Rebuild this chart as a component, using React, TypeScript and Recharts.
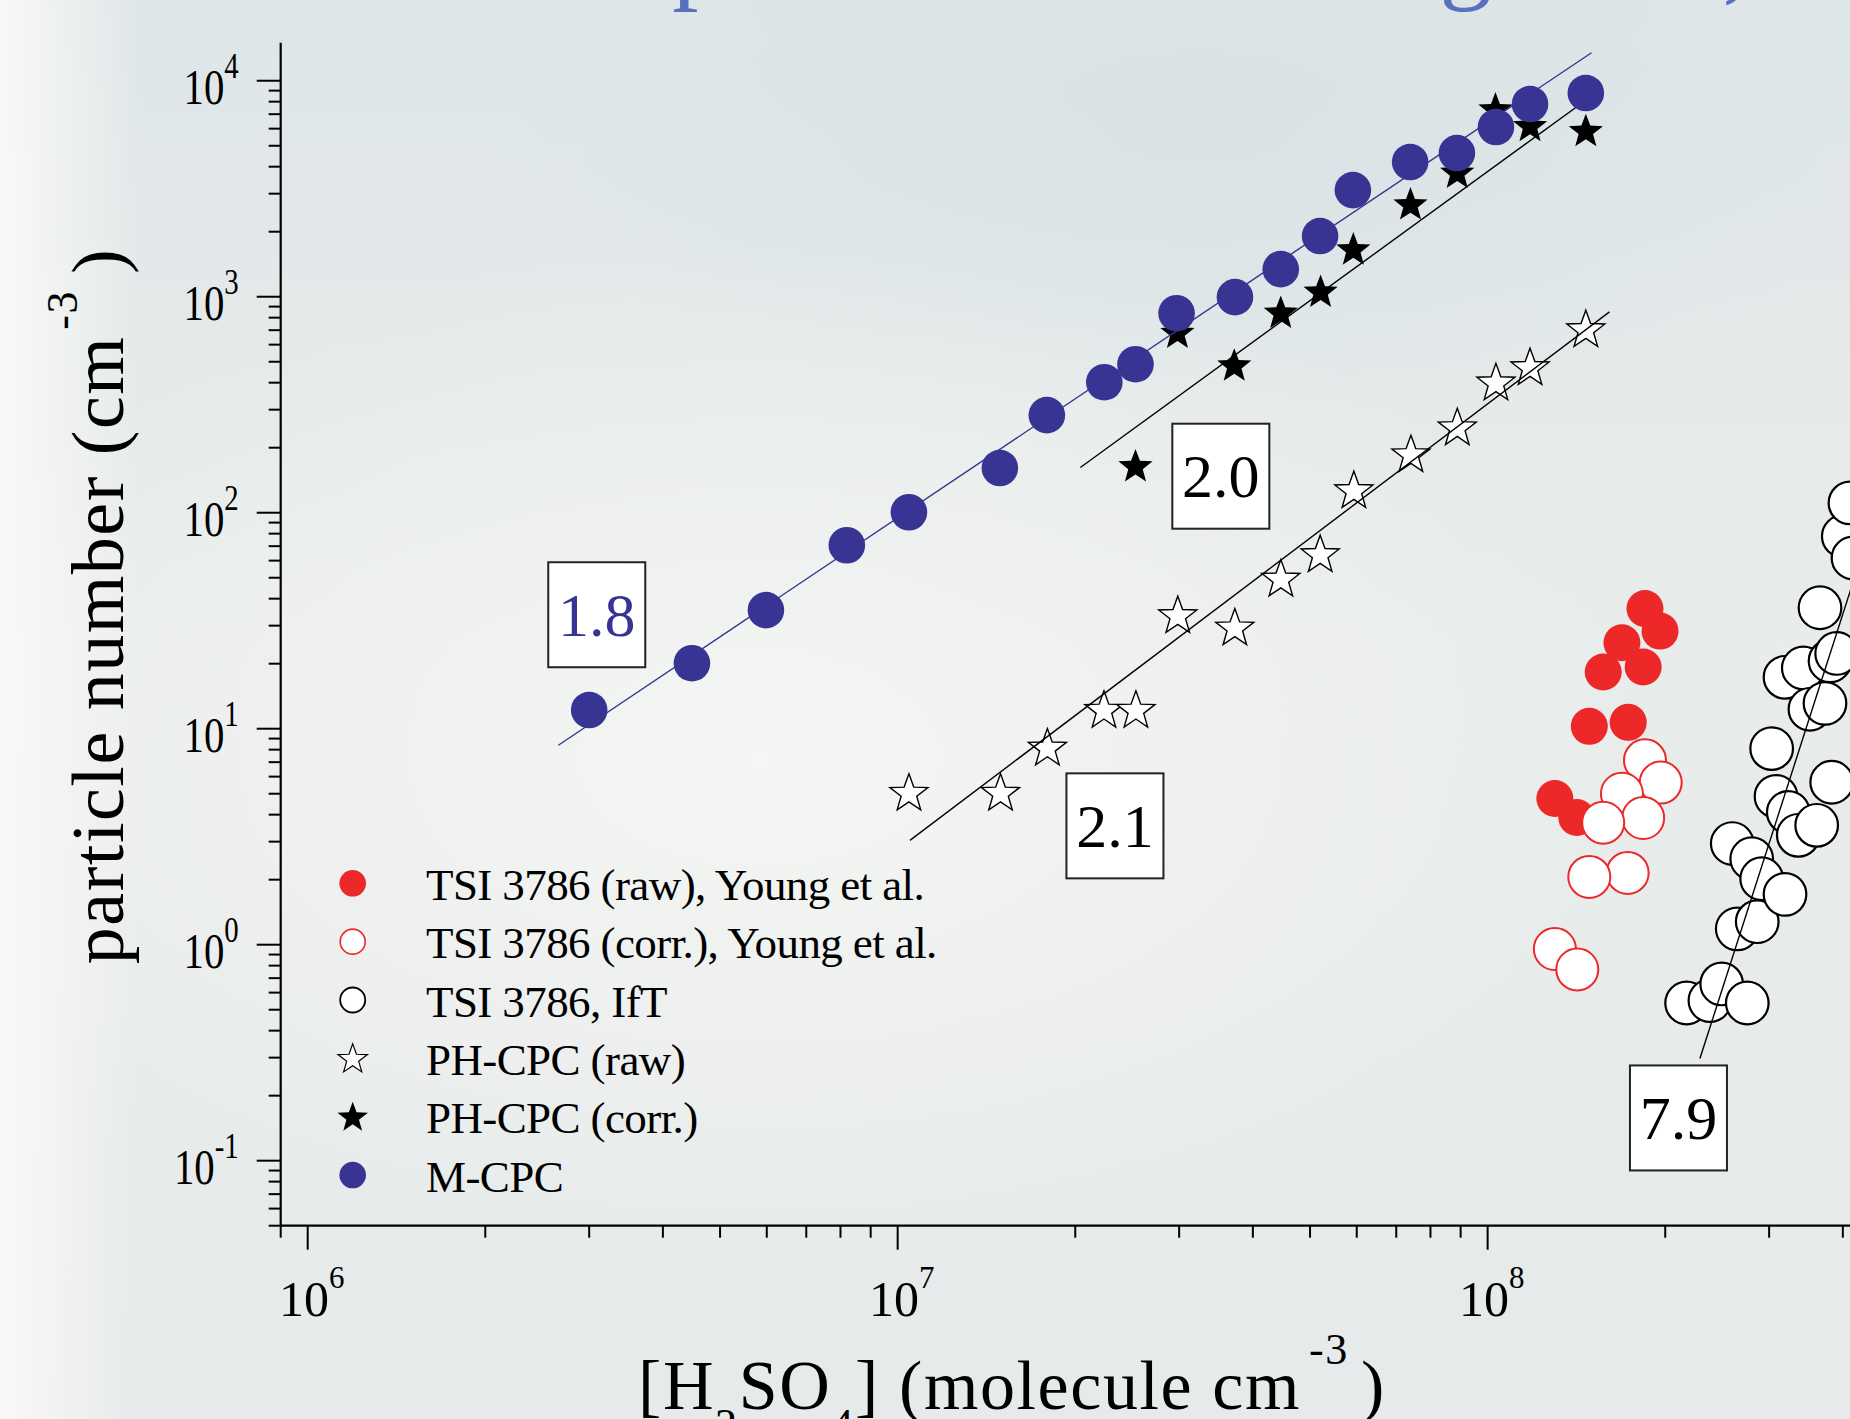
import React from 'react';
import { ScatterChart, Scatter, XAxis, YAxis, ReferenceDot, Legend } from 'recharts';

const FONT = '"Liberation Serif", "Times New Roman", Times, serif';
const BLUE = '#383494';
const RED = '#ec2828';
const TITLE_BLUE = '#5b6fbf';

// ---- data ----
const MCPC_X = [3.0e6, 4.48e6, 5.98e6, 8.2e6, 1.045e7, 1.49e7, 1.79e7, 2.24e7, 2.53e7, 2.97e7, 3.73e7, 4.46e7, 5.2e7, 5.91e7, 7.39e7, 8.87e7, 1.033e8, 1.18e8, 1.467e8];
const MCPC_Y = [12.2, 20.1, 35.4, 70.7, 100.5, 161, 283, 402, 487, 839, 996, 1342, 1909, 3117, 4202, 4625, 6103, 7799, 8770];

const PHCORR_X = [2.53e7, 2.98e7, 3.72e7, 4.46e7, 5.21e7, 5.92e7, 7.4e7, 8.88e7, 1.031e8, 1.18e8, 1.467e8];
const PHCORR_Y = [163, 676, 477, 837, 1047, 1644, 2657, 3724, 7317, 6122, 5804];

const PHRAW_X = [1.045e7, 1.494e7, 1.794e7, 2.237e7, 2.534e7, 2.984e7, 3.728e7, 4.462e7, 5.202e7, 5.933e7, 7.413e7, 8.883e7, 1.033e8, 1.18e8, 1.467e8];
const PHRAW_Y = [5.0, 5.0, 8.09, 12.1, 12.1, 33.2, 29.1, 49.0, 63.6, 125.8, 184.6, 246, 397, 467, 700];

const YOUNG_RAW_X = [1.848e8, 1.96e8, 1.689e8, 1.57e8, 1.835e8, 1.487e8, 1.731e8, 1.3e8, 1.416e8];
const YOUNG_RAW_Y = [36.0, 28.3, 25.0, 18.3, 19.3, 10.26, 10.7, 4.75, 3.88];

const YOUNG_CORR_X = [1.848e8, 1.965e8, 1.689e8, 1.835e8, 1.57e8, 1.727e8, 1.487e8, 1.3e8, 1.419e8];
const YOUNG_CORR_Y = [7.14, 5.63, 5.0, 3.86, 3.67, 2.15, 2.06, 0.955, 0.768];

const IFT_X = [2.174e8, 2.381e8, 2.493e8, 2.755e8, 2.649e8, 2.864e8, 2.598e8, 2.803e8, 2.914e8, 3.192e8, 3.03e8, 3.082e8, 3.233e8, 3.362e8, 3.612e8, 3.83e8, 3.192e8, 3.428e8, 3.518e8, 3.731e8, 3.805e8, 3.905e8, 3.659e8, 4.007e8, 4.113e8, 4.162e8];
const IFT_Y = [0.537, 0.551, 0.658, 0.537, 1.184, 1.278, 2.94, 2.5, 2.02, 1.71, 8.09, 4.86, 4.1, 3.21, 3.57, 5.65, 17.3, 19.1, 12.3, 13.1, 20.6, 22.3, 36.3, 77.8, 111, 61.7];

// fitted power-law lines (end points)
const FIT_MCPC_X = [2.66e6, 1.5e8];
const FIT_MCPC_Y = [8.38, 13480];
const FIT_PHCORR_X = [2.04e7, 1.55e8];
const FIT_PHCORR_Y = [162, 9056];
const FIT_PHRAW_X = [1.049e7, 1.609e8];
const FIT_PHRAW_Y = [3.04, 851];
const FIT_IFT_X = [2.29e8, 5e8];
const FIT_IFT_Y = [0.297, 226];

// slope annotations
const SLOPE_LABELS = ['1.8', '2.0', '2.1', '7.9'];
const SLOPE_X = [3.09e6, 3.53e7, 2.335e7, 2.106e8];
const SLOPE_Y = [33.7, 147.6, 3.55, 0.1577];
const SLOPE_COLORS = [BLUE, '#000', '#000', '#000'];

// axes
const X_DOMAIN = [9e5, 1e9];
const Y_DOMAIN = [0.05, 15000];
const X_DECADES = [1e5, 1e6, 1e7, 1e8];
const Y_DECADES = [0.01, 0.1, 1, 10, 100, 1000, 10000];
const MINOR_STEPS = [1, 2, 3, 4, 5, 6, 7, 8, 9];

const LEGEND_ORDER = [
  'TSI 3786 (raw), Young et al.',
  'TSI 3786 (corr.), Young et al.',
  'TSI 3786, IfT',
  'PH-CPC (raw)',
  'PH-CPC (corr.)',
  'M-CPC',
];

const zip = (xs: number[], ys: number[]) => xs.map((x, i) => ({ x, y: ys[i] }));
const inDomain = (v: number, d: number[]) => v >= d[0] * 0.999999 && v <= d[1] * 1.000001;
const X_TICKS = X_DECADES.flatMap((d) => MINOR_STEPS.map((m) => m * d)).concat([1e9]).filter((v) => inDomain(v, X_DOMAIN));
const Y_TICKS = Y_DECADES.flatMap((d) => MINOR_STEPS.map((m) => m * d)).filter((v) => inDomain(v, Y_DOMAIN));

const isMajor = (v: number) => Math.abs(Math.log10(v) - Math.round(Math.log10(v))) < 1e-6;
const expOf = (v: number) => String(Math.round(Math.log10(v)));

const starPoints = (cx: number, cy: number, R: number, r: number) => {
  const pts: string[] = [];
  for (let i = 0; i < 10; i++) {
    const a = -Math.PI / 2 + (i * Math.PI) / 5;
    const rad = i % 2 === 0 ? R : r;
    pts.push(`${(cx + rad * Math.cos(a)).toFixed(2)},${(cy + rad * Math.sin(a)).toFixed(2)}`);
  }
  return pts.join(' ');
};

// ---- marker shapes ----
const blueDot = (p: any) => <circle cx={p.cx} cy={p.cy} r={18.3} fill={BLUE} />;
const redDot = (p: any) => <circle cx={p.cx} cy={p.cy} r={18.5} fill={RED} />;
const redOpen = (p: any) => <circle cx={p.cx} cy={p.cy} r={21} fill="#fff" stroke={RED} strokeWidth={2} />;
const blackOpen = (p: any) => <circle cx={p.cx} cy={p.cy} r={21.3} fill="#fff" stroke="#000" strokeWidth={2.2} />;
const whiteStar = (p: any) => (
  <polygon points={starPoints(p.cx, p.cy, 20, 8.2)} fill="#fff" stroke="#000" strokeWidth={1.4} strokeLinejoin="miter" />
);
const blackStar = (p: any) => <polygon points={starPoints(p.cx, p.cy, 18, 7.6)} fill="#000" />;
const noShape = () => <g />;

const legendMarker = (name: string, cx: number, cy: number) => {
  switch (name) {
    case LEGEND_ORDER[0]:
      return <circle cx={cx} cy={cy} r={13.3} fill={RED} />;
    case LEGEND_ORDER[1]:
      return <circle cx={cx} cy={cy} r={12.5} fill="#fff" stroke={RED} strokeWidth={1.6} />;
    case LEGEND_ORDER[2]:
      return <circle cx={cx} cy={cy} r={12.5} fill="#fff" stroke="#000" strokeWidth={1.8} />;
    case LEGEND_ORDER[3]:
      return <polygon points={starPoints(cx, cy + 1, 15.5, 6.3)} fill="#fff" stroke="#000" strokeWidth={1.2} />;
    case LEGEND_ORDER[4]:
      return <polygon points={starPoints(cx, cy + 1, 16, 6.6)} fill="#000" />;
    default:
      return <circle cx={cx} cy={cy} r={13.3} fill={BLUE} />;
  }
};

const LegendContent = (props: any) => {
  const names: string[] = (props.payload || [])
    .map((e: any) => e.value)
    .filter((v: string) => LEGEND_ORDER.includes(v));
  const ordered = (names.length ? names : LEGEND_ORDER)
    .slice()
    .sort((a, b) => LEGEND_ORDER.indexOf(a) - LEGEND_ORDER.indexOf(b));
  return (
    <svg width={620} height={360} style={{ display: 'block', overflow: 'visible' }}>
      {ordered.map((name, i) => {
        const cy = 33.3 + i * 58.35;
        return (
          <g key={name}>
            {legendMarker(name, 32.7, cy)}
            <text x={106} y={cy + 16.5} fontFamily={FONT} fontSize={45} letterSpacing={-0.6} fill="#000">
              {name}
            </text>
          </g>
        );
      })}
    </svg>
  );
};

// ---- ticks ----
const XTick = (props: any) => {
  const { x, y, payload } = props;
  const v = payload.value;
  const major = isMajor(v);
  return (
    <g>
      <line x1={x} y1={y} x2={x} y2={y + (major ? 24 : 12)} stroke="#000" strokeWidth={2} />
      {major && (
        <text x={x + 4} y={y + 90} textAnchor="middle" fontFamily={FONT} fontSize={50} fill="#000">
          10
          <tspan dy={-28} fontSize={31}>
            {expOf(v)}
          </tspan>
        </text>
      )}
    </g>
  );
};

const YTick = (props: any) => {
  const { x, y, payload } = props;
  const v = payload.value;
  const major = isMajor(v);
  return (
    <g>
      <line x1={x - (major ? 24 : 12)} y1={y} x2={x} y2={y} stroke="#000" strokeWidth={2} />
      {major && (
        <text
          transform={`translate(${x - 42},${y + 23}) scale(0.8,1)`}
          textAnchor="end"
          fontFamily={FONT}
          fontSize={51}
          fill="#000"
        >
          10
          <tspan dy={-25.5} fontSize={36}>
            {expOf(v)}
          </tspan>
        </text>
      )}
    </g>
  );
};

const XTitle = () => (
  <text x={638} y={1409} fontFamily={FONT} fontSize={70} letterSpacing={1.6} fill="#000">
    [H
    <tspan dy={30} fontSize={44}>2</tspan>
    <tspan dy={-30}>SO</tspan>
    <tspan dy={30} fontSize={44}>4</tspan>
    <tspan dy={-30}>] (molecule cm</tspan>
    <tspan dy={-45} dx={8} fontSize={44}>-3</tspan>
    <tspan dy={45} dx={12}>)</tspan>
  </text>
);

const YTitle = () => (
  <text
    transform="translate(123,606) rotate(-90)"
    x={0}
    y={0}
    textAnchor="middle"
    fontFamily={FONT}
    fontSize={74}
    letterSpacing={1.5}
    fill="#000"
  >
    particle number (cm
    <tspan dy={-46} dx={6} fontSize={44}>-3</tspan>
    <tspan dy={46} dx={16}>)</tspan>
  </text>
);

const SlopeBox = (color: string, label: string) => (p: any) => (
  <g>
    <rect x={p.cx - 48.5} y={p.cy - 52.5} width={97} height={105} fill="#fff" stroke="#222" strokeWidth={2} />
    <text x={p.cx} y={p.cy + 21} textAnchor="middle" fontFamily={FONT} fontSize={62} fill={color}>
      {label}
    </text>
  </g>
);

export default function App() {
  const bg = [
    'linear-gradient(to right, rgba(250,250,248,0.95) 0px, rgba(250,250,248,0) 140px)',
    'radial-gradient(ellipse 900px 520px at 760px 760px, rgba(247,248,245,0.85) 0%, rgba(247,248,245,0) 100%)',
    'radial-gradient(ellipse 700px 300px at 1200px 120px, rgba(214,224,228,0.7) 0%, rgba(214,224,228,0) 100%)',
    'linear-gradient(to bottom, #dfe6e8 0px, #e8eceb 45%, #e6eaea 100%)',
  ].join(', ');

  return (
    <div
      style={{
        position: 'absolute',
        left: 0,
        top: 0,
        width: 1850,
        height: 1419,
        overflow: 'hidden',
        background: bg,
      }}
    >
      <svg width={1850} height={60} style={{ position: 'absolute', left: 0, top: 0 }}>
        <text x={468} y={-11} fontFamily={FONT} fontSize={105} fill={TITLE_BLUE}>
          Comparison with Young et al.,
        </text>
      </svg>
      <div style={{ position: 'absolute', left: 0, top: 0 }}>
        <ScatterChart width={2100} height={1419} margin={{ top: 42.7, right: 22.4, bottom: 133.3, left: 220.7 }}>
          <XAxis
            type="number"
            dataKey="x"
            scale="log"
            domain={X_DOMAIN}
            allowDataOverflow
            ticks={X_TICKS}
            interval={0}
            tick={<XTick />}
            tickLine={false}
            tickSize={0}
            tickMargin={0}
            height={60}
            axisLine={{ stroke: '#000', strokeWidth: 2.2 }}
            label={<XTitle />}
          />
          <YAxis
            type="number"
            dataKey="y"
            scale="log"
            domain={Y_DOMAIN}
            allowDataOverflow
            ticks={Y_TICKS}
            interval={0}
            tick={<YTick />}
            tickLine={false}
            tickSize={0}
            tickMargin={0}
            width={60}
            axisLine={{ stroke: '#000', strokeWidth: 2.2 }}
            label={<YTitle />}
          />
          <Legend
            layout="horizontal"
            verticalAlign="middle"
            align="center"
            content={<LegendContent />}
            wrapperStyle={{ left: 320, top: 850, width: 620, height: 360 }}
          />

          <Scatter name={LEGEND_ORDER[2]} data={zip(IFT_X, IFT_Y)} shape={blackOpen} isAnimationActive={false} />
          <Scatter name="fit IfT" legendType="none" data={zip(FIT_IFT_X, FIT_IFT_Y)} shape={noShape}
            line={{ stroke: '#000', strokeWidth: 1.4 }} isAnimationActive={false} />
          <Scatter name={LEGEND_ORDER[0]} data={zip(YOUNG_RAW_X, YOUNG_RAW_Y)} shape={redDot} isAnimationActive={false} />
          <Scatter name={LEGEND_ORDER[1]} data={zip(YOUNG_CORR_X, YOUNG_CORR_Y)} shape={redOpen} isAnimationActive={false} />
          <Scatter name={LEGEND_ORDER[3]} data={zip(PHRAW_X, PHRAW_Y)} shape={whiteStar} isAnimationActive={false} />
          <Scatter name="fit PH raw" legendType="none" data={zip(FIT_PHRAW_X, FIT_PHRAW_Y)} shape={noShape}
            line={{ stroke: '#000', strokeWidth: 1.4 }} isAnimationActive={false} />
          <Scatter name={LEGEND_ORDER[4]} data={zip(PHCORR_X, PHCORR_Y)} shape={blackStar} isAnimationActive={false} />
          <Scatter name="fit PH corr" legendType="none" data={zip(FIT_PHCORR_X, FIT_PHCORR_Y)} shape={noShape}
            line={{ stroke: '#000', strokeWidth: 1.4 }} isAnimationActive={false} />
          <Scatter name="fit M-CPC" legendType="none" data={zip(FIT_MCPC_X, FIT_MCPC_Y)} shape={noShape}
            line={{ stroke: BLUE, strokeWidth: 1.4 }} isAnimationActive={false} />
          <Scatter name={LEGEND_ORDER[5]} data={zip(MCPC_X, MCPC_Y)} shape={blueDot} isAnimationActive={false} />

          {SLOPE_LABELS.map((lab, i) => (
            <ReferenceDot
              key={lab}
              x={SLOPE_X[i]}
              y={SLOPE_Y[i]}
              r={1}
              ifOverflow="visible"
              shape={SlopeBox(SLOPE_COLORS[i], lab)}
            />
          ))}
        </ScatterChart>
      </div>
    </div>
  );
}
